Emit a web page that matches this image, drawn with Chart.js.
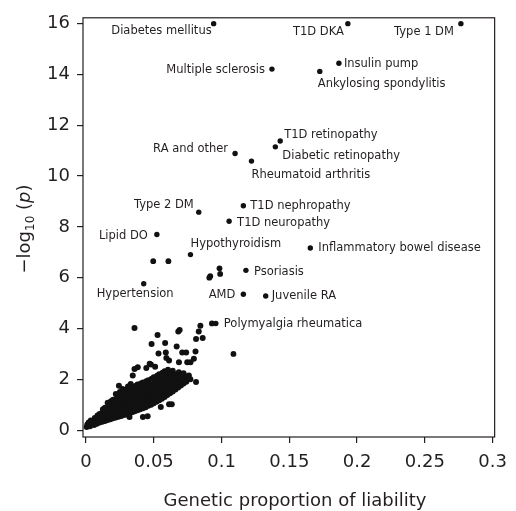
<!DOCTYPE html>
<html>
<head>
<meta charset="utf-8">
<script src="https://cdn.jsdelivr.net/npm/chart.js@4.4.1/dist/chart.umd.min.js"></script>
<style>
  html, body { margin: 0; padding: 0; background: #fff; }
  #wrap { width: 516px; height: 511px; }
</style>
</head>
<body>
<div id="wrap"><canvas id="plot" width="516" height="511"></canvas></div>
<script>
// labelled traits
const traitNames = [
  "Diabetes mellitus", "T1D DKA", "Type 1 DM", "Multiple sclerosis", "Insulin pump",
  "Ankylosing spondylitis", "T1D retinopathy", "Diabetic retinopathy", "RA and other",
  "Rheumatoid arthritis", "Type 2 DM", "T1D nephropathy", "T1D neuropathy", "Lipid DO",
  "Hypothyroidism", "Inflammatory bowel disease", "Hypertension", "Psoriasis", "AMD",
  "Juvenile RA", "Polymyalgia rheumatica"
];
const traitX = [0.0942, 0.1932, 0.2766, 0.1372, 0.1866, 0.1725, 0.1433, 0.1397, 0.110, 0.1221,
  0.0832, 0.1161, 0.1056, 0.0523, 0.0771, 0.1655, 0.0426, 0.118, 0.1161, 0.1326, 0.0958];
const traitY = [16.0, 16.0, 16.0, 14.21, 14.44, 14.12, 11.38, 11.15, 10.89, 10.59,
  8.58, 8.83, 8.22, 7.70, 6.91, 7.17, 5.76, 6.29, 5.35, 5.28, 4.20];

// unlabelled traits near the labelled ones
const midX = [0.0496, 0.0608, 0.091, 0.0917, 0.0985, 0.099, 0.0929, 0.1088];
const midY = [6.65, 6.65, 6.0, 6.06, 6.37, 6.15, 4.20, 3.0];

// the main cloud of traits, [proportion, -log10 p]
const cloud = [
  [0.0005,0.12],[0.001,0.22],[0.002,0.3],[0.003,0.15],[0.0035,0.38],[0.004,0.25],
  [0.006,0.2],[0.006,0.35],[0.0065,0.48],[0.008,0.25],[0.008,0.42],[0.0085,0.58],
  [0.010,0.3],[0.0105,0.47],[0.010,0.64],[0.012,0.33],[0.0125,0.5],[0.012,0.68],[0.0125,0.82],
  [0.014,0.36],[0.014,0.54],[0.0145,0.72],[0.014,0.88],
  [0.016,0.4],[0.0165,0.58],[0.016,0.76],[0.0165,0.93],[0.016,1.08],
  [0.018,0.43],[0.018,0.62],[0.0185,0.8],[0.018,0.98],[0.0185,1.14],
  [0.020,0.47],[0.0205,0.66],[0.020,0.84],[0.0205,1.02],[0.020,1.2],
  [0.022,0.5],[0.022,0.7],[0.0225,0.88],[0.022,1.06],[0.0225,1.25],[0.022,1.42],
  [0.024,0.53],[0.0245,0.72],[0.024,0.92],[0.0245,1.1],[0.024,1.3],[0.025,1.5],
  [0.026,0.56],[0.026,0.76],[0.0265,0.96],[0.026,1.15],[0.0265,1.35],[0.027,1.62],
  [0.028,0.6],[0.0285,0.8],[0.028,1.0],[0.0285,1.2],[0.028,1.4],[0.0285,1.55],
  [0.030,0.62],[0.030,0.84],[0.0305,1.04],[0.030,1.24],[0.0305,1.44],[0.030,1.6],[0.031,1.72],
  [0.032,0.66],[0.0325,0.88],[0.032,1.08],[0.0325,1.28],[0.032,1.48],[0.0325,1.64],[0.033,1.82],
  [0.034,0.7],[0.034,0.92],[0.0345,1.12],[0.034,1.32],[0.0345,1.52],[0.034,1.7],
  [0.036,0.74],[0.0365,0.96],[0.036,1.16],[0.0365,1.36],[0.036,1.56],[0.0365,1.74],
  [0.038,0.78],[0.038,1.0],[0.0385,1.2],[0.038,1.4],[0.0385,1.6],[0.038,1.8],
  [0.040,0.82],[0.0405,1.04],[0.040,1.24],[0.0405,1.44],[0.040,1.64],[0.0405,1.84],
  [0.042,0.86],[0.042,1.08],[0.0425,1.28],[0.042,1.48],[0.0425,1.68],[0.042,1.88],
  [0.044,0.9],[0.0445,1.12],[0.044,1.32],[0.0445,1.52],[0.044,1.72],[0.0445,1.92],
  [0.046,0.96],[0.046,1.16],[0.0465,1.36],[0.046,1.56],[0.0465,1.76],[0.046,1.96],
  [0.048,1.0],[0.0485,1.2],[0.048,1.4],[0.0485,1.6],[0.048,1.8],[0.0485,2.02],
  [0.050,1.06],[0.050,1.26],[0.0505,1.46],[0.050,1.66],[0.0505,1.86],[0.050,2.08],
  [0.052,1.12],[0.0525,1.32],[0.052,1.52],[0.0525,1.72],[0.052,1.92],[0.0525,2.14],
  [0.054,1.18],[0.054,1.38],[0.0545,1.58],[0.054,1.78],[0.0545,1.98],[0.054,2.2],
  [0.056,1.24],[0.0565,1.44],[0.056,1.64],[0.0565,1.84],[0.056,2.04],[0.0565,2.26],
  [0.058,1.3],[0.058,1.5],[0.0585,1.7],[0.058,1.9],[0.0585,2.1],[0.058,2.32],
  [0.060,1.38],[0.0605,1.58],[0.060,1.78],[0.0605,1.98],[0.060,2.18],[0.0605,2.38],
  [0.062,1.45],[0.062,1.65],[0.0625,1.85],[0.062,2.05],[0.0625,2.26],
  [0.064,1.52],[0.0645,1.72],[0.064,1.92],[0.0645,2.12],[0.064,2.34],
  [0.066,1.6],[0.066,1.8],[0.0665,2.0],[0.066,2.2],
  [0.068,1.68],[0.0685,1.88],[0.068,2.08],[0.0685,2.28],
  [0.070,1.76],[0.070,1.96],[0.0705,2.16],
  [0.072,1.84],[0.0725,2.04],[0.072,2.24],
  [0.074,1.9],[0.0745,2.1],[0.077,2.0],
  // scattered around the cloud
  [0.0358,4.02],[0.0528,3.74],[0.0484,3.39],[0.0584,3.43],[0.0681,3.88],[0.0691,3.94],
  [0.0535,3.02],[0.0589,3.06],[0.0669,3.29],[0.071,3.06],[0.0739,3.06],[0.0808,3.10],
  [0.0844,4.11],[0.0832,3.88],[0.0812,3.59],[0.0861,3.63],[0.0747,2.67],[0.0771,2.67],
  [0.0796,2.81],[0.0686,2.67],[0.0593,2.84],[0.0613,2.74],[0.0479,2.58],[0.0358,2.41],
  [0.0382,2.48],[0.0345,2.15],[0.0243,1.75],[0.0812,1.89],[0.0759,2.15],[0.071,1.96],
  [0.0613,1.02],[0.0633,1.02],[0.0552,0.91],[0.0455,0.55],[0.0321,0.52],[0.042,0.52],
  [0.047,2.61],[0.0445,2.45],[0.051,2.5]
];

const xTicks = [0, 0.05, 0.1, 0.15, 0.2, 0.25, 0.3];
const xTickLabels = ["0", "0.05", "0.1", "0.15", "0.2", "0.25", "0.3"];
const yTicks = [0, 2, 4, 6, 8, 10, 12, 14, 16];
const xTitle = "Genetic proportion of liability";

// where each trait name sits relative to its dot: [align, dx, dy] in px
const labelPos = [
  ["right", -2, 7], ["right", -4, 8], ["right", -7, 8], ["right", -7, 1], ["left", 5, 1],
  ["left", -2, 13], ["left", 4, -6], ["left", 7, 9], ["right", -7, -4],
  ["left", 0, 14], ["right", -5, -7], ["left", 7, 0], ["left", 8, 2], ["right", -9, 2],
  ["left", 0, -11], ["left", 8, 0], ["left", -47, 10], ["left", 8, 2], ["right", -8, 1],
  ["left", 6, 0], ["left", 8, 1]
];

const ink = "#231f20";
const dot = "#111111";

const decorations = {
  id: "decorations",
  beforeDatasetsDraw(chart) {
    const { ctx, chartArea: a } = chart;
    ctx.save();
    ctx.strokeStyle = ink;
    ctx.lineWidth = 1.2;
    ctx.strokeRect(a.left, a.top, a.right - a.left, a.bottom - a.top);
    ctx.restore();
  },
  afterDatasetsDraw(chart) {
    const ctx = chart.ctx;
    const pts = chart.getDatasetMeta(2).data;
    ctx.save();
    ctx.fillStyle = ink;
    ctx.font = "11.5px 'DejaVu Sans'";
    ctx.textBaseline = "middle";
    traitNames.forEach((name, i) => {
      const p = labelPos[i];
      ctx.textAlign = p[0];
      ctx.fillText(name, pts[i].x + p[1], pts[i].y + p[2]);
    });

    // x title
    ctx.font = "18px 'DejaVu Sans'";
    ctx.textAlign = "center";
    ctx.fillText(xTitle, 295, 501);

    // y title: -log10 (p)
    ctx.translate(30, 229);
    ctx.rotate(-Math.PI / 2);
    ctx.textAlign = "left";
    ctx.textBaseline = "alphabetic";
    const parts = [
      ["\u2212log", "18px 'DejaVu Sans'", 0],
      ["10", "12px 'DejaVu Sans'", 4],
      [" (", "18px 'DejaVu Sans'", 0],
      ["p", "italic 18px 'DejaVu Sans'", 0],
      [")", "18px 'DejaVu Sans'", 0]
    ];
    let total = 0;
    parts.forEach(t => { ctx.font = t[1]; total += ctx.measureText(t[0]).width; });
    let x = -total / 2;
    parts.forEach(t => {
      ctx.font = t[1];
      ctx.fillText(t[0], x, t[2]);
      x += ctx.measureText(t[0]).width;
    });
    ctx.restore();
  }
};

const tickFont = { family: "'DejaVu Sans'", size: 18 };

new Chart(document.getElementById("plot"), {
  type: "scatter",
  data: {
    datasets: [
      {
        data: cloud.map(p => ({ x: p[0], y: p[1] })),
        backgroundColor: dot, borderWidth: 0, pointRadius: 3
      },
      {
        data: midX.map((v, i) => ({ x: v, y: midY[i] })),
        backgroundColor: dot, borderWidth: 0, pointRadius: 2.9
      },
      {
        data: traitX.map((v, i) => ({ x: v, y: traitY[i] })),
        backgroundColor: dot, borderWidth: 0, pointRadius: 2.7
      }
    ]
  },
  options: {
    responsive: false,
    animation: false,
    devicePixelRatio: 1,
    layout: { padding: { top: 15, right: 17, left: 0, bottom: 0 } },
    plugins: { legend: { display: false }, tooltip: { enabled: false } },
    scales: {
      x: {
        type: "linear", min: -0.0022, max: 0.3015,
        afterBuildTicks: s => { s.ticks = xTicks.map(v => ({ value: v })); },
        afterFit: s => { s.height = 74; },
        ticks: {
          font: tickFont, color: ink, padding: 9, maxRotation: 0, autoSkip: false,
          callback: v => xTickLabels[xTicks.indexOf(v)]
        },
        grid: { drawOnChartArea: false, drawTicks: true, tickLength: 6, color: ink, lineWidth: 1.2 },
        border: { display: false }
      },
      y: {
        type: "linear", min: -0.27, max: 16.23,
        afterBuildTicks: s => { s.ticks = yTicks.map(v => ({ value: v })); },
        afterFit: s => { s.width = 83; },
        ticks: { font: tickFont, color: ink, padding: 7, autoSkip: false },
        grid: { drawOnChartArea: false, drawTicks: true, tickLength: 6, color: ink, lineWidth: 1.2 },
        border: { display: false }
      }
    }
  },
  plugins: [decorations]
});
</script>
</body>
</html>
